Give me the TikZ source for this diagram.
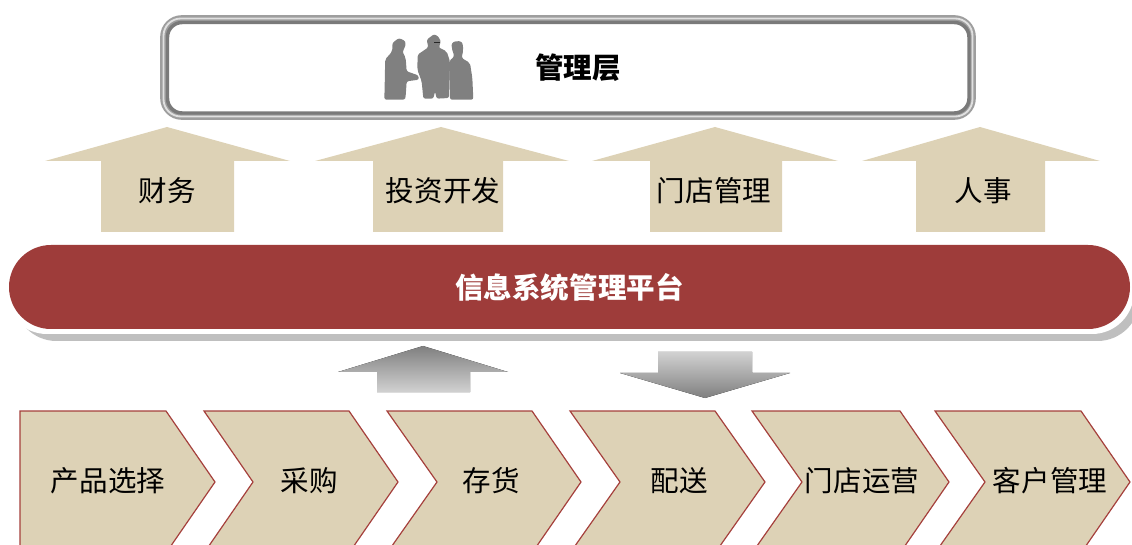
\documentclass[tikz,border=0pt]{standalone}
\usepackage{fontspec}
\setmainfont{Noto Sans CJK SC}
\usepackage{tikz}
\usetikzlibrary{positioning}
\definecolor{tanfill}{HTML}{DDD2B6}
\definecolor{barred}{HTML}{9E3C3A}
\definecolor{chevline}{HTML}{A5403C}
\tikzset{
  label text/.style={font=\fontsize{21.4}{26}\selectfont,text=black,inner sep=0pt},
  strong text/.style={font=\fontsize{21.4}{26}\selectfont\bfseries,inner sep=0pt},
  pill/.style={minimum width=#1*0.75pt,minimum height=84*0.75pt,rounded corners=31.5pt,inner sep=0pt},
  uparrow/.style={fill=tanfill,draw=none},
  chevron/.style={fill=tanfill,draw=chevline,line width=0.9pt},
  figure/.style={fill=black!50,rounded corners=1.6pt},
  greyup/.style={draw=none,top color=black!50,bottom color=black!18},
  greydown/.style={draw=none,top color=black!18,bottom color=black!50}
}
\begin{document}
\begin{tikzpicture}[x=0.75pt,y=-0.75pt]
  \clip (0,0) rectangle (1132,545);
  % management box
  \draw[draw=black!38,line width=6.5pt,rounded corners=13pt] (164.5,19.5) rectangle (971.5,115.5);
  \draw[draw=black!12,line width=1.4pt,rounded corners=13pt] (163.5,18.5) rectangle (972.5,116.5);
  \draw[draw=black!52,line width=2.6pt,rounded corners=11pt,fill=white] (167.5,22.5) rectangle (969,113);
  \node[strong text] (mgmt) at (578,68) {管理层};
  % people
  \begin{scope}[shift={(375,28)},x=0.25pt,y=-0.25pt]
    \fill[figure] (72,30) -- (92,40) -- (90,60) -- (82,70) -- (92,90) -- (95,130) -- (130,142) -- (132,155)
      -- (95,160) -- (92,205) -- (90,215) -- (28,215) -- (30,130) -- (30,95) -- (52,70) -- (52,45) -- cycle;
    \fill[figure] (178,18) -- (195,30) -- (197,50) -- (190,58) -- (215,70) -- (225,100) -- (222,210) -- (185,212)
      -- (180,190) -- (175,212) -- (145,212) -- (140,160) -- (127,125) -- (128,80) -- (160,58) -- (155,35) -- cycle;
    \fill[figure] (245,38) -- (262,42) -- (265,65) -- (260,90) -- (285,105) -- (292,150) -- (295,215) -- (225,215)
      -- (222,100) -- (238,85) -- (230,60) -- (230,45) -- cycle;
    \fill[black!85] (178,41) rectangle (195,46);
  \end{scope}
  % arrows up to management
  \foreach \n/\wl/\wr/\sl/\sr/\tip/\lx/\txt in {
    fin/45/290/101/234/167/167/财务,
    inv/315/569/373/503/441/443/投资开发,
    store/592/838/650/782/715/714/门店管理,
    hr/862/1100/916/1045/980/983/人事}{
    \fill[uparrow] (\tip,127) -- (\wr,161) -- (\sr,161) -- (\sr,232) -- (\sl,232) -- (\sl,161) -- (\wl,161) -- cycle;
    \node[label text] (\n) at (\lx,191) {\txt};
  }
  % platform bar
  \node[pill=1125,fill=black!25] (barshadow) at (577,299) {};
  \node[pill=1129,fill=white,minimum height=92*0.75pt] (barrim) at (569.5,288) {};
  \node[pill=1121,fill=barred,text=white,strong text] (plat) at (569.5,287) {信息系统管理平台};
  % grey arrows
  \fill[greyup] (423,346) -- (508,372) -- (470,372) -- (470,392) -- (377,392) -- (377,372) -- (338,372) -- cycle;
  \fill[greydown] (658,352) -- (752,352) -- (752,373) -- (790,373) -- (705,398) -- (620,373) -- (658,373) -- cycle;
  % value chain
  \foreach \n/\xl/\xs/\xt/\xn/\lx/\txt in {
    pick/20/166/215/20/108/产品选择,
    buy/204/349/398/253/309/采购,
    stock/387/532/581/437/491/存货,
    ship/570/715/765/620/679/配送,
    run/752/900/949/802/862/门店运营,
    crm/935/1081/1130/985/1050/客户管理}{
    \draw[chevron] (\xl,411) -- (\xs,411) -- (\xt,482) -- (\xs,553) -- (\xl,553) -- (\xn,482) -- cycle;
    \node[label text] (\n) at (\lx,481) {\txt};
  }
\end{tikzpicture}
\end{document}
